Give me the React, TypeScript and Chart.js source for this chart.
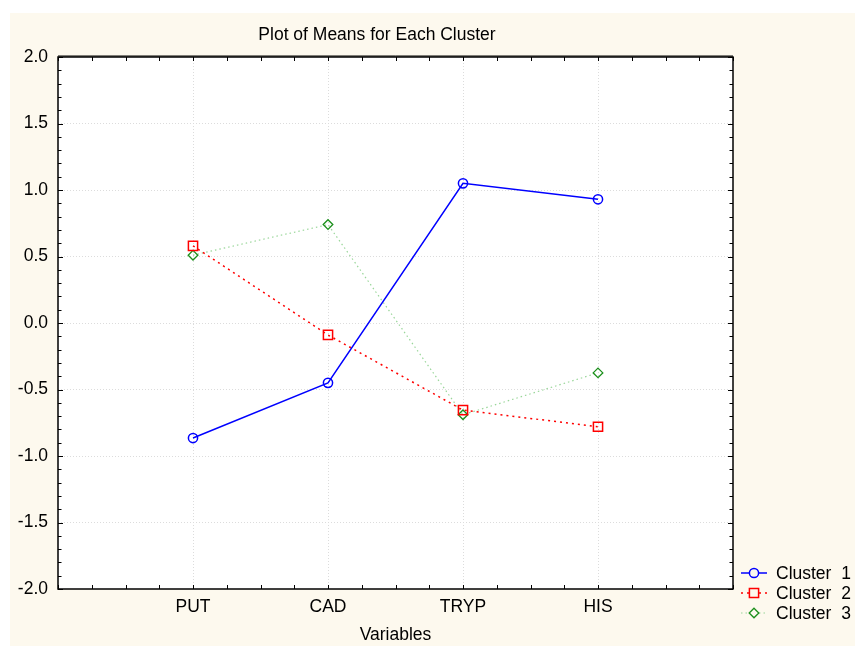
import React, { useEffect, useRef } from "react";
import { Chart, registerables } from "chart.js";

Chart.register(...registerables);

const categories = ["PUT", "CAD", "TRYP", "HIS"];
const cluster1 = [-0.865, -0.45, 1.05, 0.93];
const cluster2 = [0.58, -0.09, -0.655, -0.78];
const cluster3 = [0.51, 0.74, -0.69, -0.375];
const seriesNames = ["Cluster  1", "Cluster  2", "Cluster  3"];
const yTicks = [-2.0, -1.5, -1.0, -0.5, 0.0, 0.5, 1.0, 1.5, 2.0];
const titleText = "Plot of Means for Each Cluster";
const xTitle = "Variables";

const FONT = "'Liberation Sans', Arial, sans-serif";
const FS = 17.5;
const CREAM = "#fdf9ee";

const toPts = (vals: number[]) => vals.map((v, i) => ({ x: i + 1, y: v }));

function drawMarker(ctx: CanvasRenderingContext2D, style: string, r: number, x: number, y: number) {
  ctx.beginPath();
  if (style === "circle") {
    ctx.arc(x, y, r, 0, Math.PI * 2);
  } else if (style === "rect") {
    const s = r * Math.SQRT1_2;
    ctx.rect(x - s, y - s, 2 * s, 2 * s);
  } else {
    ctx.moveTo(x, y - r);
    ctx.lineTo(x + r, y);
    ctx.lineTo(x, y + r);
    ctx.lineTo(x - r, y);
    ctx.closePath();
  }
  ctx.fill();
  ctx.stroke();
}

const decorPlugin = {
  id: "decor",
  beforeDraw(chart: any) {
    const { ctx, chartArea: a } = chart;
    ctx.save();
    ctx.fillStyle = "#ffffff";
    ctx.fillRect(0, 0, chart.width, chart.height);
    ctx.fillStyle = CREAM;
    ctx.fillRect(10, 13, chart.width - 10, chart.height - 13);
    ctx.fillStyle = "#ffffff";
    ctx.fillRect(a.left, a.top, a.right - a.left, a.bottom - a.top);
    ctx.restore();
  },
  afterDraw(chart: any) {
    const { ctx, chartArea: a, scales } = chart;
    const xs = scales.x;
    const ys = scales.y;
    ctx.save();
    ctx.strokeStyle = "#000";
    ctx.lineWidth = 1;
    ctx.beginPath();
    for (let i = 0; i <= 20; i++) {
      const px = Math.round(xs.getPixelForValue(i * 0.25)) + 0.5;
      ctx.moveTo(px, a.bottom);
      ctx.lineTo(px, a.bottom - 4);
      ctx.moveTo(px, a.top);
      ctx.lineTo(px, a.top + 4);
    }
    for (let i = 0; i <= 40; i++) {
      const v = -2 + i * 0.1;
      const py = Math.round(ys.getPixelForValue(v)) + 0.5;
      const len = i % 5 === 0 ? 5 : 3.5;
      ctx.moveTo(a.left, py);
      ctx.lineTo(a.left + len, py);
      ctx.moveTo(a.right, py);
      ctx.lineTo(a.right - len, py);
    }
    ctx.stroke();
    ctx.lineWidth = 1.5;
    ctx.strokeRect(a.left, a.top, a.right - a.left, a.bottom - a.top);
    ctx.beginPath();
    ctx.lineWidth = 1;
    ctx.moveTo(a.left, a.top - 1);
    ctx.lineTo(a.right, a.top - 1);
    ctx.stroke();
    ctx.fillStyle = "#000";
    ctx.font = `${FS}px ${FONT}`;
    ctx.textAlign = "center";
    ctx.textBaseline = "middle";
    ctx.fillText(titleText, 377, 35);
    const rows = [573, 593, 613];
    chart.data.datasets.forEach((ds: any, i: number) => {
      const y = rows[i];
      ctx.save();
      ctx.strokeStyle = ds.borderColor;
      ctx.lineWidth = ds.borderWidth;
      ctx.setLineDash(ds.borderDash || []);
      ctx.beginPath();
      ctx.moveTo(741, y);
      ctx.lineTo(767, y);
      ctx.stroke();
      ctx.restore();
      ctx.save();
      ctx.fillStyle = CREAM;
      ctx.strokeStyle = ds.pointBorderColor;
      ctx.lineWidth = ds.pointBorderWidth;
      drawMarker(ctx, ds.pointStyle, ds.pointRadius, 754, y);
      ctx.restore();
      ctx.fillStyle = "#000";
      ctx.font = `${FS}px ${FONT}`;
      ctx.textAlign = "left";
      ctx.textBaseline = "middle";
      ctx.fillText(ds.label, 776, y + 1);
    });
    ctx.restore();
  },
};

export default function App() {
  const ref = useRef<HTMLCanvasElement>(null);
  useEffect(() => {
    if (!ref.current) return;
    const chart = new Chart(ref.current, {
      type: "line",
      data: {
        datasets: [
          {
            label: seriesNames[0],
            data: toPts(cluster1),
            borderColor: "#0000ff",
            borderWidth: 1.5,
            pointStyle: "circle",
            pointRadius: 4.6,
            pointBorderWidth: 1.5,
            pointBorderColor: "#0000ff",
            pointBackgroundColor: "rgba(0,0,0,0)",
            backgroundColor: "rgba(0,0,0,0)",
          },
          {
            label: seriesNames[1],
            data: toPts(cluster2),
            borderColor: "#ff0000",
            borderWidth: 1.5,
            borderDash: [2, 4],
            pointStyle: "rect",
            pointRadius: 6.5,
            pointBorderWidth: 1.5,
            pointBorderColor: "#ff0000",
            pointBackgroundColor: "rgba(0,0,0,0)",
            backgroundColor: "rgba(0,0,0,0)",
          },
          {
            label: seriesNames[2],
            data: toPts(cluster3),
            borderColor: "#99d699",
            borderWidth: 1.2,
            borderDash: [1.5, 3],
            pointStyle: "rectRot",
            pointRadius: 4.8,
            pointBorderWidth: 1.3,
            pointBorderColor: "#1a8f1a",
            pointBackgroundColor: "rgba(0,0,0,0)",
            backgroundColor: "rgba(0,0,0,0)",
          },
        ],
      },
      options: {
        animation: false,
        responsive: false,
        layout: { padding: { top: 57, right: 122, bottom: 0, left: 10 } },
        plugins: {
          legend: { display: false },
          tooltip: { enabled: false },
          title: { display: false },
        },
        scales: {
          x: {
            type: "linear",
            min: 0,
            max: 5,
            afterFit: (s: any) => {
              s.height = 57;
            },
            ticks: {
              stepSize: 1,
              padding: 8,
              color: "#000",
              font: { family: FONT, size: FS },
              callback: (v: any) => {
                const n = Number(v);
                return Number.isInteger(n) && n >= 1 && n <= categories.length
                  ? categories[n - 1]
                  : "";
              },
            },
            grid: {
              drawTicks: false,
              color: (c: any) =>
                c.tick && (c.tick.value === 0 || c.tick.value === 5) ? "rgba(0,0,0,0)" : "#dcdcdc",
              lineWidth: 1,
            },
            border: { display: false, dash: [1, 2] },
            title: {
              display: true,
              text: xTitle,
              color: "#000",
              font: { family: FONT, size: FS },
              padding: 0,
            },
          },
          y: {
            min: -2,
            max: 2,
            afterFit: (s: any) => {
              s.width = 48;
            },
            afterBuildTicks: (s: any) => {
              s.ticks = yTicks.map((v) => ({ value: v }));
            },
            ticks: {
              padding: 10,
              color: "#000",
              font: { family: FONT, size: FS },
              callback: (v: any) => Number(v).toFixed(1),
            },
            grid: {
              drawTicks: false,
              color: (c: any) =>
                c.tick && (c.tick.value === 2 || c.tick.value === -2) ? "rgba(0,0,0,0)" : "#dcdcdc",
              lineWidth: 1,
            },
            border: { display: false, dash: [1, 2] },
          },
        },
      },
      plugins: [decorPlugin],
    } as any);
    return () => chart.destroy();
  }, []);
  return (
    <div style={{ position: "absolute", left: 0, top: 0, width: 855, height: 646 }}>
      <canvas ref={ref} width={855} height={646} style={{ width: 855, height: 646, display: "block" }} />
    </div>
  );
}
